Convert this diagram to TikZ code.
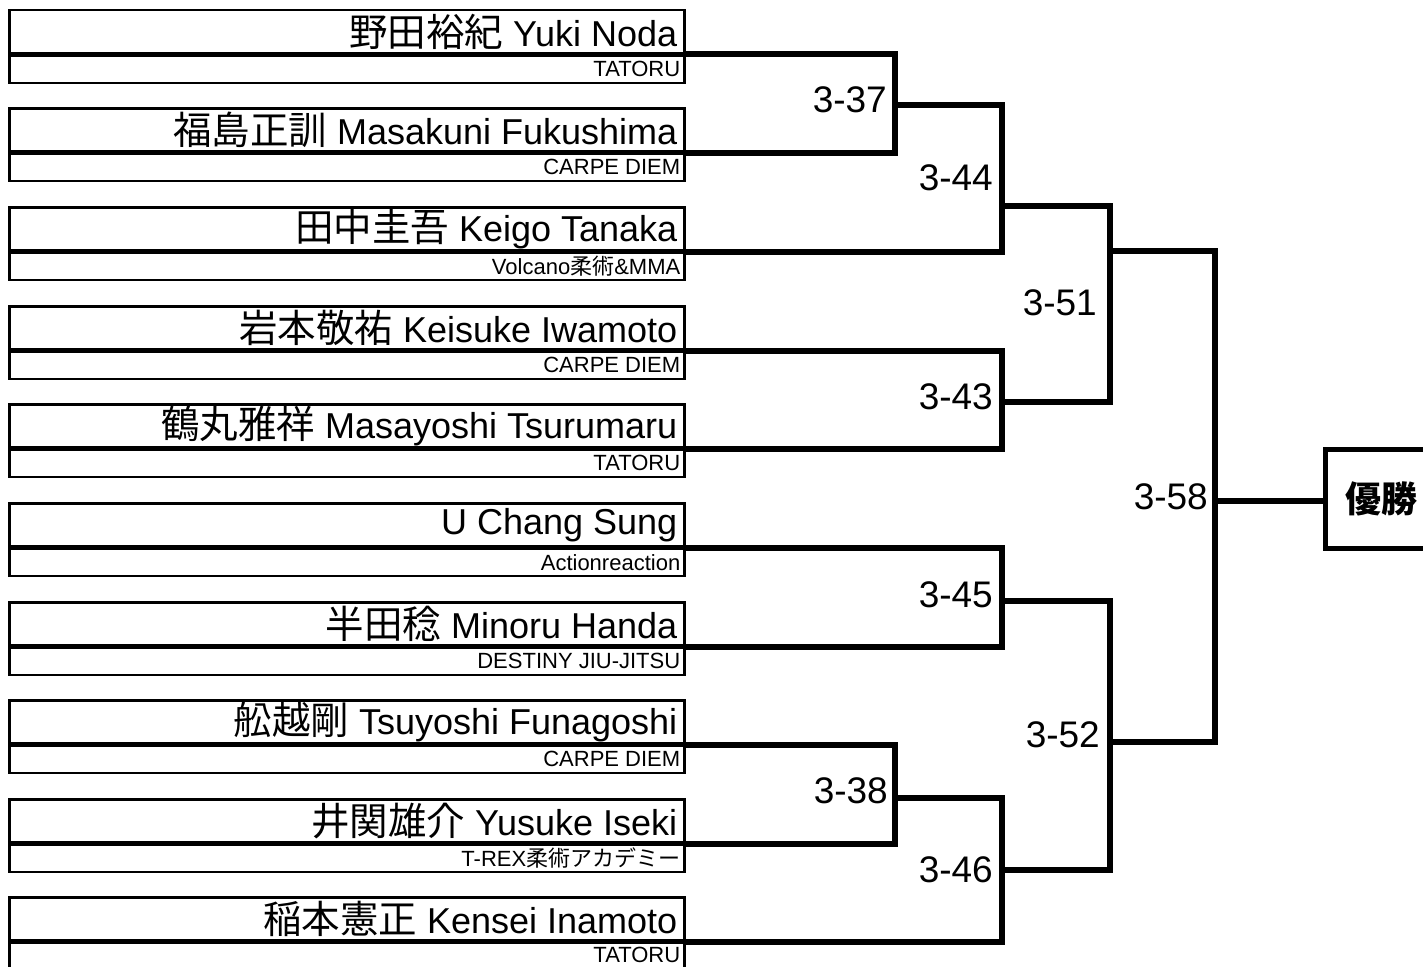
\documentclass[tikz,border=0pt]{standalone}
\usepackage{fontspec}
\setmainfont{Liberation Sans}
\newfontfamily\cjk{Noto Sans CJK JP}
\newcommand{\jn}[1]{{\cjk\fontsize{38.5}{40}\selectfont #1}}
\begin{document}
\begin{tikzpicture}[x=1pt,y=-1pt,
  namebox/.style={draw, line width=2.5pt, anchor=north west, minimum height=43pt, text width=661pt, inner xsep=7pt, inner ysep=0pt, align=flush right, font=\fontsize{36}{40}\selectfont},
  teambox/.style={draw, line width=2.5pt, anchor=north, minimum height=27pt, text width=667pt, inner xsep=4pt, inner ysep=0pt, align=flush right, font=\fontsize{22}{24}\selectfont},
  conn/.style={line width=6pt, line join=miter},
  score/.style={anchor=east, inner sep=0pt, font=\fontsize{37}{40}\selectfont},
  champbox/.style={draw, line width=4.5pt, anchor=north west, minimum width=112pt, minimum height=99pt, inner sep=0pt, font=\fontsize{36}{40}\selectfont\cjk\bfseries},
]
\useasboundingbox (0,0) rectangle (1423,966);
\clip (0,0) rectangle (1423,966);

\node[namebox] (n1) at (8,9) {\jn{野田裕紀} Yuki Noda};
\node[teambox] (t1) at (n1.south) {TATORU};
\node[namebox] (n2) at (8,107) {\jn{福島正訓} Masakuni Fukushima};
\node[teambox] (t2) at (n2.south) {CARPE DIEM};
\node[namebox] (n3) at (8,206) {\jn{田中圭吾} Keigo Tanaka};
\node[teambox] (t3) at (n3.south) {Volcano{\cjk 柔術}\&MMA};
\node[namebox] (n4) at (8,305) {\jn{岩本敬祐} Keisuke Iwamoto};
\node[teambox] (t4) at (n4.south) {CARPE DIEM};
\node[namebox] (n5) at (8,403) {\jn{鶴丸雅祥} Masayoshi Tsurumaru};
\node[teambox] (t5) at (n5.south) {TATORU};
\node[namebox] (n6) at (8,502) {U Chang Sung};
\node[teambox] (t6) at (n6.south) {Actionreaction};
\node[namebox] (n7) at (8,601) {\jn{半田稔} Minoru Handa};
\node[teambox] (t7) at (n7.south) {DESTINY JIU-JITSU};
\node[namebox] (n8) at (8,699) {\jn{舩越剛} Tsuyoshi Funagoshi};
\node[teambox] (t8) at (n8.south) {CARPE DIEM};
\node[namebox] (n9) at (8,798) {\jn{井関雄介} Yusuke Iseki};
\node[teambox] (t9) at (n9.south) {T-REX{\cjk 柔術アカデミー}};
\node[namebox] (n10) at (8,896) {\jn{稲本憲正} Kensei Inamoto};
\node[teambox, text depth=0pt] (t10) at (n10.south) {\raisebox{2pt}{TATORU}};

\node[champbox] (champ) at (1323,447) {優勝};

\coordinate (j37) at (895,105);
\coordinate (j44) at (1002,206);
\coordinate (j43) at (1002,402);
\coordinate (j51) at (1110,251);
\coordinate (j45) at (1002,601);
\coordinate (j38) at (895,798);
\coordinate (j46) at (1002,870);
\coordinate (j52) at (1110,742);
\coordinate (j58) at (1215,501);

\draw[conn] (n1.south east) -| (j37) |- (n2.south east);
\draw[conn] (j37) -| (j44) |- (n3.south east);
\draw[conn] (n4.south east) -| (j43) |- (n5.south east);
\draw[conn] (j44) -| (j51) |- (j43);
\draw[conn] (n6.south east) -| (j45) |- (n7.south east);
\draw[conn] (n8.south east) -| (j38) |- (n9.south east);
\draw[conn] (j38) -| (j46) |- (n10.south east);
\draw[conn] (j45) -| (j52) |- (j46);
\draw[conn] (j51) -| (j58) |- (j52);
\draw[conn] (j58) -- (j58 -| champ.west);

\node[score] (s37) at (887,100) {3-37};
\node[score] (s44) at (993,178) {3-44};
\node[score] (s51) at (1097,303) {3-51};
\node[score] (s43) at (993,397) {3-43};
\node[score] (s58) at (1208,497) {3-58};
\node[score] (s45) at (993,595) {3-45};
\node[score] (s52) at (1100,735) {3-52};
\node[score] (s38) at (888,791) {3-38};
\node[score] (s46) at (993,870) {3-46};
\end{tikzpicture}
\end{document}
